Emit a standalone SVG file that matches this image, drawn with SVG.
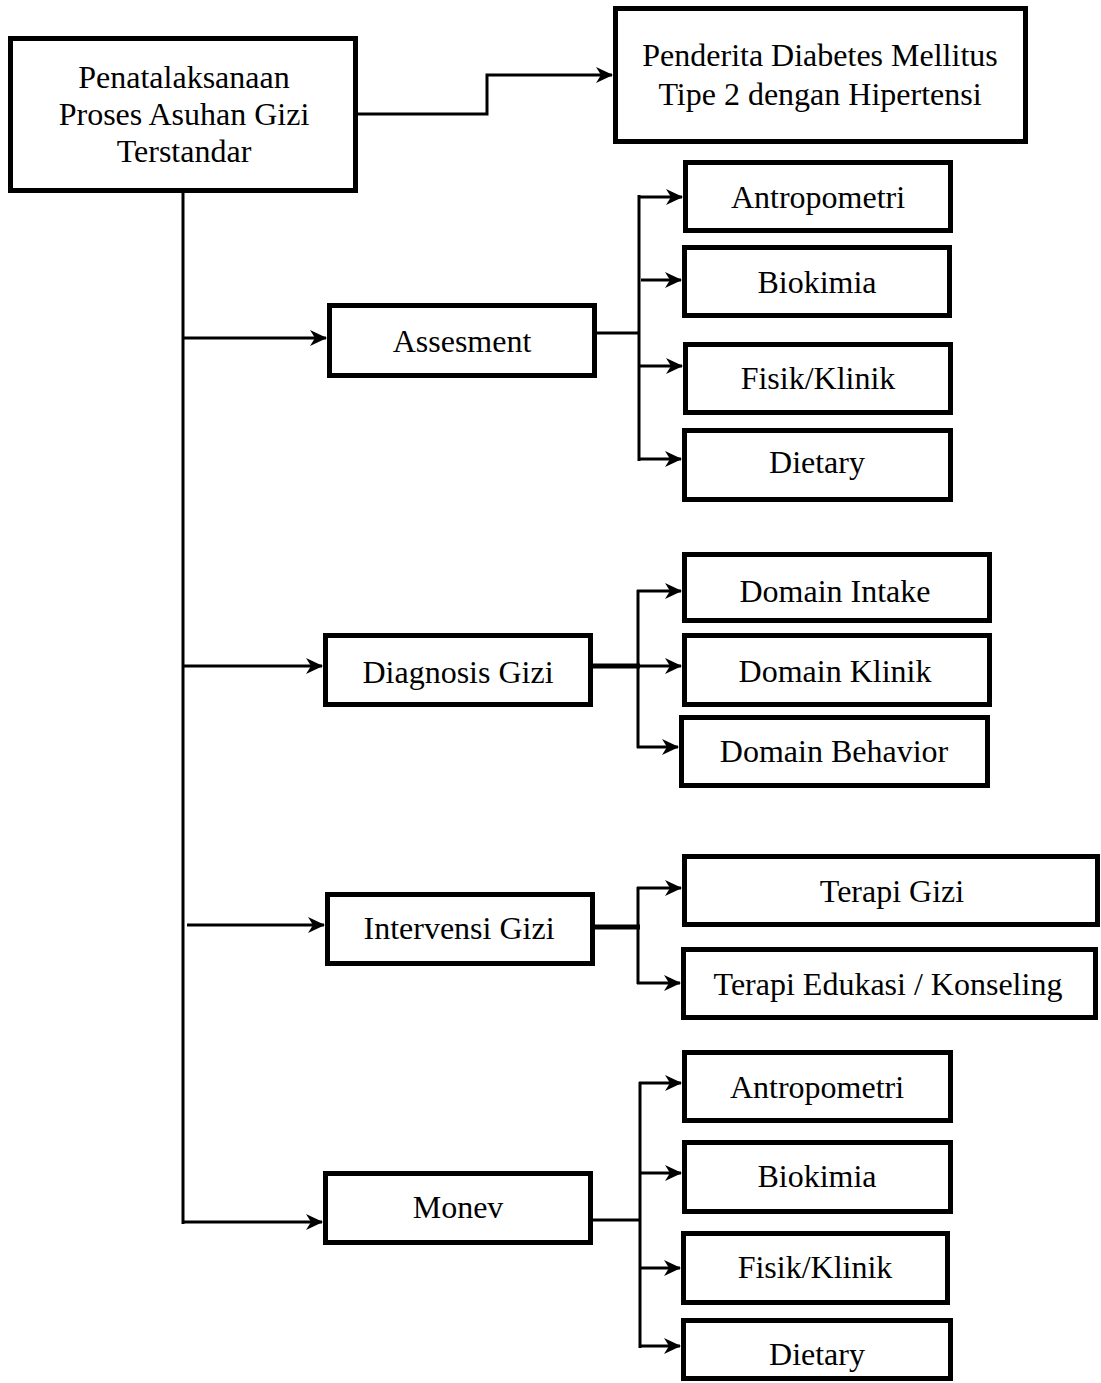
<svg xmlns="http://www.w3.org/2000/svg" width="1101" height="1383" viewBox="0 0 1101 1383">
<style>
.box{fill:#fff;stroke:#000;stroke-width:5}
.t{font-family:"Liberation Serif","Times New Roman",serif;font-size:32px;fill:#000;text-anchor:middle}
.c{fill:none;stroke:#000;stroke-width:3}
.ca{fill:none;stroke:#000;stroke-width:3;marker-end:url(#ah)}
.thick{stroke-width:5}
</style>
<defs>
<marker id="ah" markerUnits="userSpaceOnUse" markerWidth="20" markerHeight="20" viewBox="-18 -10 20 20" refX="0" refY="0" orient="auto">
<path d="M1,0 L-16,-8 L-11,0 L-16,8 Z" fill="#000"/>
</marker>
</defs>
<rect width="1101" height="1383" fill="#fff"/>
<g id="connectors">
<polyline class="ca" points="358,114 487,114 487,75 612,75"/>
<line class="c" x1="183" y1="193" x2="183" y2="1224"/>
<line class="ca" x1="183" y1="338" x2="326" y2="338"/>
<line class="ca" x1="183" y1="666" x2="322" y2="666"/>
<line class="ca" x1="187" y1="925" x2="324" y2="925"/>
<line class="ca" x1="183" y1="1222" x2="322" y2="1222"/>
<line class="c" x1="597" y1="333" x2="640" y2="333"/>
<line class="c" x1="639" y1="195" x2="639" y2="461"/>
<line class="ca" x1="638" y1="197" x2="682" y2="197"/>
<line class="ca" x1="641" y1="280" x2="681" y2="280"/>
<line class="ca" x1="639" y1="366" x2="682" y2="366"/>
<line class="ca" x1="638" y1="459" x2="681" y2="459"/>
<line class="c thick" x1="593" y1="666" x2="640" y2="666"/>
<line class="c" x1="638" y1="590" x2="638" y2="748"/>
<line class="ca" x1="637" y1="591" x2="681" y2="591"/>
<line class="ca" x1="638" y1="666" x2="681" y2="666"/>
<line class="ca" x1="637" y1="747" x2="678" y2="747"/>
<line class="c thick" x1="595" y1="927" x2="640" y2="927"/>
<line class="c" x1="638" y1="887" x2="638" y2="984"/>
<line class="ca" x1="637" y1="888" x2="681" y2="888"/>
<line class="ca" x1="637" y1="983" x2="680" y2="983"/>
<line class="c" x1="593" y1="1220" x2="641" y2="1220"/>
<line class="c" x1="640" y1="1082" x2="640" y2="1348"/>
<line class="ca" x1="639" y1="1083" x2="681" y2="1083"/>
<line class="ca" x1="640" y1="1173" x2="681" y2="1173"/>
<line class="ca" x1="640" y1="1268" x2="680" y2="1268"/>
<line class="ca" x1="639" y1="1346" x2="680" y2="1346"/>
</g>
<g id="root"><rect class="box" x="10.5" y="38.5" width="345" height="152"/>
<text class="t" x="184" y="88">Penatalaksanaan</text><text class="t" x="184" y="125">Proses Asuhan Gizi</text><text class="t" x="184" y="162">Terstandar</text></g>
<g id="penderita"><rect class="box" x="615.5" y="8.5" width="410" height="133"/>
<text class="t" x="820" y="66">Penderita Diabetes Mellitus</text><text class="t" x="820" y="105">Tipe 2 dengan Hipertensi</text></g>
<g id="assesment"><rect class="box" x="329.5" y="305.5" width="265" height="70"/><text class="t" x="462" y="352">Assesment</text></g>
<g id="diagnosis"><rect class="box" x="325.5" y="635.5" width="265" height="69"/><text class="t" x="458" y="683">Diagnosis Gizi</text></g>
<g id="intervensi"><rect class="box" x="327.5" y="894.5" width="265" height="69"/><text class="t" x="459" y="939">Intervensi Gizi</text></g>
<g id="monev"><rect class="box" x="325.5" y="1173.5" width="265" height="69"/><text class="t" x="458" y="1218">Monev</text></g>
<g id="a-antropometri"><rect class="box" x="685.5" y="162.5" width="265" height="68"/><text class="t" x="818" y="208">Antropometri</text></g>
<g id="a-biokimia"><rect class="box" x="684.5" y="247.5" width="265" height="68"/><text class="t" x="817" y="293">Biokimia</text></g>
<g id="a-fisik"><rect class="box" x="685.5" y="344.5" width="265" height="68"/><text class="t" x="818" y="389">Fisik/Klinik</text></g>
<g id="a-dietary"><rect class="box" x="684.5" y="430.5" width="266" height="69"/><text class="t" x="817" y="473">Dietary</text></g>
<g id="d-intake"><rect class="box" x="684.5" y="554.5" width="305" height="66"/><text class="t" x="835" y="602">Domain Intake</text></g>
<g id="d-klinik"><rect class="box" x="684.5" y="635.5" width="305" height="69"/><text class="t" x="835" y="682">Domain Klinik</text></g>
<g id="d-behavior"><rect class="box" x="681.5" y="717.5" width="306" height="68"/><text class="t" x="834" y="762">Domain Behavior</text></g>
<g id="i-terapi-gizi"><rect class="box" x="684.5" y="856.5" width="413" height="68"/><text class="t" x="892" y="902">Terapi Gizi</text></g>
<g id="i-terapi-edukasi"><rect class="box" x="683.5" y="949.5" width="412" height="68"/><text class="t" x="888" y="995">Terapi Edukasi / Konseling</text></g>
<g id="m-antropometri"><rect class="box" x="684.5" y="1052.5" width="266" height="68"/><text class="t" x="817" y="1098">Antropometri</text></g>
<g id="m-biokimia"><rect class="box" x="684.5" y="1142.5" width="266" height="69"/><text class="t" x="817" y="1187">Biokimia</text></g>
<g id="m-fisik"><rect class="box" x="683.5" y="1233.5" width="264" height="69"/><text class="t" x="815" y="1278">Fisik/Klinik</text></g>
<g id="m-dietary"><rect class="box" x="683.5" y="1320.5" width="267" height="58"/><text class="t" x="817" y="1365">Dietary</text></g>
</svg>
